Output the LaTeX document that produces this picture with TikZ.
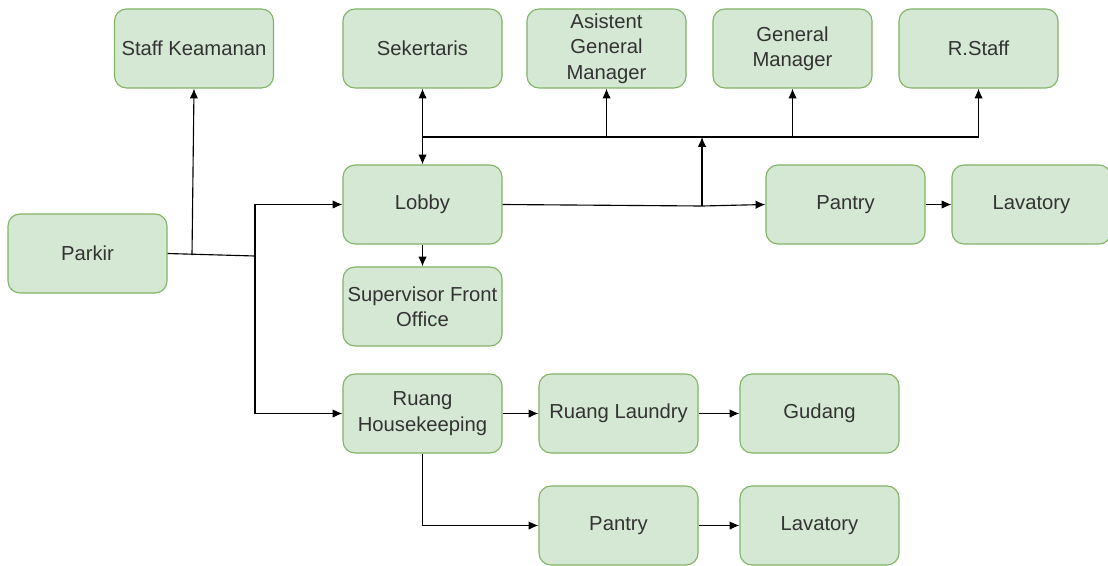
\documentclass[tikz,border=0pt]{standalone}
\usepackage{fontspec}
\setmainfont{Liberation Sans}
\usetikzlibrary{arrows.meta}
\definecolor{roomfill}{HTML}{D5E8D4}
\definecolor{roomline}{HTML}{82B366}
\begin{document}
\begin{tikzpicture}[x=0.025cm,y=-0.025cm,>={Latex[length=7pt,width=6pt]},
		every node/.style={font=\fontsize{14.4}{18}\selectfont},
		room/.style={draw=roomline,fill=roomfill,rounded corners=0.3cm,line width=0.8pt,
			minimum width=3.975cm,minimum height=1.975cm,align=center,text=black!80},
		link/.style={->,line width=0.8pt}]
		
		\useasboundingbox (0,0) rectangle (1108,565);
		
		% top row
		\node[room] (keamanan)   at (194,48.5)    {Staff Keamanan};
		\node[room] (sekertaris) at (422.5,48.5)  {Sekertaris};
		\node[room] (agm)        at (606.5,48.5)  {Asistent\\General\\Manager};
		\node[room] (gm)         at (792.5,48.5)  {General\\Manager};
		\node[room] (rstaff)     at (978.5,48.5)  {R.Staff};
		
		% middle
		\node[room] (parkir)     at (87.5,253.5)  {Parkir};
		\node[room] (lobby)      at (422.5,204.5) {Lobby};
		\node[room] (pantry)     at (845.5,204.5) {Pantry};
		\node[room] (lavatory)   at (1031.5,204.5) {Lavatory};
		\node[room] (supervisor) at (422.5,306.5) {Supervisor Front\\Office};
		
		% housekeeping
		\node[room] (housekeeping) at (422.5,413.5) {Ruang\\Housekeeping};
		\node[room] (laundry)      at (618.5,413.5) {Ruang Laundry};
		\node[room] (gudang)       at (819.5,413.5) {Gudang};
		\node[room] (pantryhk)     at (618.5,525.5) {Pantry};
		\node[room] (lavatoryhk)   at (819.5,525.5) {Lavatory};
		
		\coordinate (tee)   at (192,255);
		\coordinate (split) at (255,256);
		\coordinate (bus)   at (422.5,137);
		\coordinate (up)    at (702,206);
		
		\draw[line width=0.8pt] (parkir.east) -- (split);
		\draw[link] (tee) -- (keamanan.south);
		\draw[link] (split) |- (lobby.west);
		\draw[link] (split) |- (housekeeping.west);
		
		\draw[link,<->] (sekertaris.south) -- (lobby.north);
		\draw[line width=0.8pt] (bus) -- (rstaff.south |- bus);
		\foreach \n in {agm,gm,rstaff}
			\draw[link] (\n.south |- bus) -- (\n.south);
		
		\draw[line width=0.8pt] (lobby.east) -- (up);
		\draw[link] (up) -- (up |- bus);
		\draw[link] (up) -- (pantry.west);
		\draw[link] (pantry) -- (lavatory);
		\draw[link] (lobby) -- (supervisor);
		
		\draw[link] (housekeeping) -- (laundry);
		\draw[link] (laundry) -- (gudang);
		\draw[link] (housekeeping.south) |- (pantryhk.west);
		\draw[link] (pantryhk) -- (lavatoryhk);
\end{tikzpicture}
\end{document}
